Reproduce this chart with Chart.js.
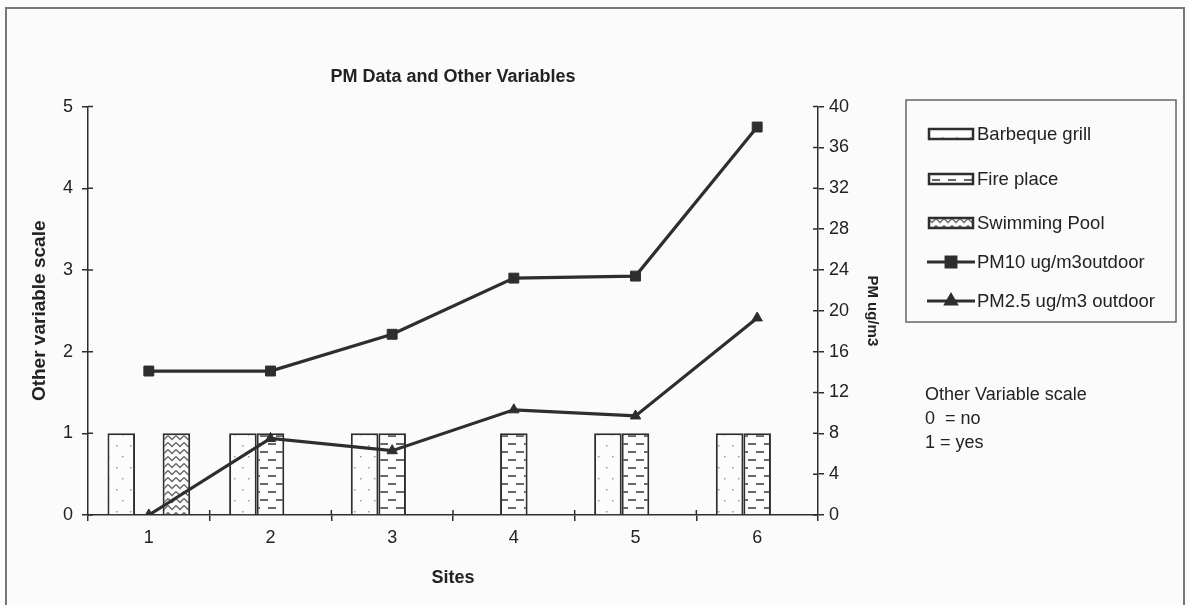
<!DOCTYPE html>
<html>
<head>
<meta charset="utf-8">
<title>PM Data and Other Variables</title>
<script src="https://cdn.jsdelivr.net/npm/chart.js@4.4.1/dist/chart.umd.min.js"></script>
<style>
  html, body { margin: 0; padding: 0; background: #fbfbfb; }
  #pmChart { display: block; }
</style>
</head>
<body>
<canvas id="pmChart" width="1189" height="605"></canvas>
<script>
// Sites and the yes/no variables (left axis, 0 = no, 1 = yes)
const sites = ['1', '2', '3', '4', '5', '6'];
const barbequeGrill = [1, 1, 1, 0, 1, 1];
const firePlace = [0, 1, 1, 1, 1, 1];
const swimmingPool = [1, 0, 0, 0, 0, 0];

// Outdoor particulate readings (right axis, ug/m3)
const pm10Outdoor = [14.1, 14.1, 17.7, 23.2, 23.4, 38.0];
const pm25Outdoor = [0, 7.5, 6.3, 10.3, 9.7, 19.3];

// Tick labels for both vertical axes
const leftTicks = [0, 1, 2, 3, 4, 5];
const rightTicks = [0, 4, 8, 12, 16, 20, 24, 28, 32, 36, 40];

const ink = '#2e2e2e';
const textColor = '#222';
const family = '"Liberation Sans", Arial, sans-serif';

Chart.defaults.font.family = family;
Chart.defaults.color = textColor;

// small tiled fills for the bars
function makePattern(w, h, draw) {
    const c = document.createElement('canvas');
    c.width = w;
    c.height = h;
    const g = c.getContext('2d');
    g.fillStyle = '#fcfcfc';
    g.fillRect(0, 0, w, h);
    draw(g);
    return c.getContext('2d').createPattern(c, 'repeat');
}

const dotsFill = makePattern(14, 22, g => {
    g.fillStyle = '#9a9a9a';
    g.fillRect(4, 5, 1.5, 1.5);
    g.fillRect(10, 16, 1.5, 1.5);
});

const dashFill = makePattern(16, 16, g => {
    g.fillStyle = '#666';
    g.fillRect(4, 3, 8, 2);
    g.fillRect(12, 11, 4, 2);
    g.fillRect(0, 11, 4, 2);
});

const zigzagFill = makePattern(8, 7, g => {
    g.strokeStyle = '#666';
    g.lineWidth = 1.3;
    g.beginPath();
    g.moveTo(0, 1.5);
    g.lineTo(4, 5.5);
    g.lineTo(8, 1.5);
    g.stroke();
});

function fixedWidth(w) {
    return scale => { scale.width = w; };
}

// page frame, inward tick marks, boxed legend and the scale note
const decorations = {
    id: 'decorations',
    beforeDraw(chart) {
        const ctx = chart.ctx;
        ctx.save();
        ctx.fillStyle = '#fbfbfb';
        ctx.fillRect(0, 0, chart.width, chart.height);
        ctx.strokeStyle = '#777';
        ctx.lineWidth = 2;
        ctx.strokeRect(6, 8, 1178, 610);
        ctx.restore();
    },
    afterDraw(chart) {
        const ctx = chart.ctx;
        const { y, y1, x } = chart.scales;
        const area = chart.chartArea;
        ctx.save();
        ctx.strokeStyle = ink;
        ctx.lineWidth = 1.5;
        ctx.beginPath();
        y.ticks.forEach(t => {
            const py = y.getPixelForValue(t.value);
            ctx.moveTo(area.left, py);
            ctx.lineTo(area.left + 5, py);
        });
        y1.ticks.forEach(t => {
            const py = y1.getPixelForValue(t.value);
            ctx.moveTo(area.right, py);
            ctx.lineTo(area.right - 5, py);
        });
        for (let i = 1; i < sites.length; i++) {
            const px = (x.getPixelForTick(i - 1) + x.getPixelForTick(i)) / 2;
            ctx.moveTo(px, area.bottom);
            ctx.lineTo(px, area.bottom - 5);
        }
        ctx.stroke();

        // legend box
        const box = { left: 906, top: 100, right: 1176, bottom: 322 };
        ctx.strokeStyle = '#666';
        ctx.lineWidth = 1.5;
        ctx.strokeRect(box.left, box.top, box.right - box.left, box.bottom - box.top);

        const rows = [134, 179, 223, 262, 301];
        ctx.font = '18.5px ' + family;
        ctx.textBaseline = 'middle';
        ctx.textAlign = 'left';
        chart.data.datasets.forEach((ds, i) => {
            const ry = rows[i];
            if (ds.type === 'bar') {
                ctx.fillStyle = ds.backgroundColor;
                ctx.fillRect(929, ry - 5, 44, 10);
                ctx.strokeStyle = ink;
                ctx.lineWidth = 2.5;
                ctx.strokeRect(929, ry - 5, 44, 10);
            } else {
                ctx.strokeStyle = ink;
                ctx.lineWidth = 3;
                ctx.beginPath();
                ctx.moveTo(927, ry);
                ctx.lineTo(975, ry);
                ctx.stroke();
                ctx.fillStyle = ink;
                Chart.helpers.drawPoint(ctx, {
                    pointStyle: ds.pointStyle,
                    radius: ds.pointRadius,
                    borderWidth: 1
                }, 951, ry);
            }
            ctx.fillStyle = textColor;
            ctx.fillText(ds.label, 977, ry + 1);
        });

        // note about the left scale
        ctx.font = '18px ' + family;
        ctx.fillText('Other Variable scale', 925, 395);
        ctx.fillText('0  = no', 925, 419);
        ctx.fillText('1 = yes', 925, 443);
        ctx.restore();
    }
};

const barDefaults = {
    type: 'bar',
    yAxisID: 'y',
    borderColor: ink,
    borderWidth: 2,
    borderSkipped: 'bottom',
    categoryPercentage: 0.68,
    barPercentage: 1.0,
    order: 2
};

const lineDefaults = {
    type: 'line',
    yAxisID: 'y1',
    borderColor: ink,
    backgroundColor: ink,
    pointBackgroundColor: ink,
    pointBorderColor: ink,
    borderWidth: 3.2,
    pointBorderWidth: 1,
    tension: 0,
    fill: false,
    order: 1
};

const tickFont = { size: 18 };

new Chart(document.getElementById('pmChart'), {
    data: {
        labels: sites,
        datasets: [
            Object.assign({}, barDefaults, { label: 'Barbeque grill', data: barbequeGrill, backgroundColor: dotsFill }),
            Object.assign({}, barDefaults, { label: 'Fire place', data: firePlace, backgroundColor: dashFill }),
            Object.assign({}, barDefaults, { label: 'Swimming Pool', data: swimmingPool, backgroundColor: zigzagFill }),
            Object.assign({}, lineDefaults, { label: 'PM10 ug/m3outdoor', data: pm10Outdoor, pointStyle: 'rect', pointRadius: 7 }),
            Object.assign({}, lineDefaults, { label: 'PM2.5 ug/m3 outdoor', data: pm25Outdoor, pointStyle: 'triangle', pointRadius: 6 })
        ]
    },
    options: {
        responsive: false,
        animation: false,
        layout: { padding: { left: 10, right: 301, top: 0, bottom: 10 } },
        plugins: {
            legend: { display: false },
            tooltip: { enabled: false },
            title: {
                display: true,
                fullSize: false,
                text: 'PM Data and Other Variables',
                color: textColor,
                font: { size: 18, weight: 'bold' },
                padding: { top: 66, bottom: 19 }
            }
        },
        scales: {
            x: {
                type: 'category',
                offset: true,
                afterFit: scale => { scale.height = 80; },
                grid: { offset: true, drawOnChartArea: false, tickLength: 6, color: ink, lineWidth: 1.5 },
                border: { color: ink, width: 1.5 },
                ticks: { font: tickFont, color: textColor, padding: 6, maxRotation: 0 },
                title: { display: true, text: 'Sites', font: { size: 18, weight: 'bold' }, color: textColor, padding: { top: 0, bottom: 6 } }
            },
            y: {
                position: 'left',
                min: 0,
                max: 5,
                afterFit: fixedWidth(78),
                afterBuildTicks: scale => { scale.ticks = leftTicks.map(v => ({ value: v })); },
                grid: { drawOnChartArea: false, tickLength: 6, color: ink, lineWidth: 1.5 },
                border: { color: ink, width: 1.5 },
                ticks: { font: tickFont, color: textColor, padding: 9 },
                title: { display: true, text: 'Other variable scale', font: { size: 19, weight: 'bold' }, color: textColor, padding: { top: 18, bottom: 0 } }
            },
            y1: {
                position: 'right',
                min: 0,
                max: 40,
                afterFit: fixedWidth(70),
                afterBuildTicks: scale => { scale.ticks = rightTicks.map(v => ({ value: v })); },
                grid: { drawOnChartArea: false, tickLength: 6, color: ink, lineWidth: 1.5 },
                border: { color: ink, width: 1.5 },
                ticks: { font: tickFont, color: textColor, padding: 5 },
                title: { display: true, text: 'PM ug/m3', font: { size: 15, weight: 'bold' }, color: textColor, padding: { top: 7, bottom: 0 } }
            }
        }
    },
    plugins: [decorations]
});
</script>
</body>
</html>
